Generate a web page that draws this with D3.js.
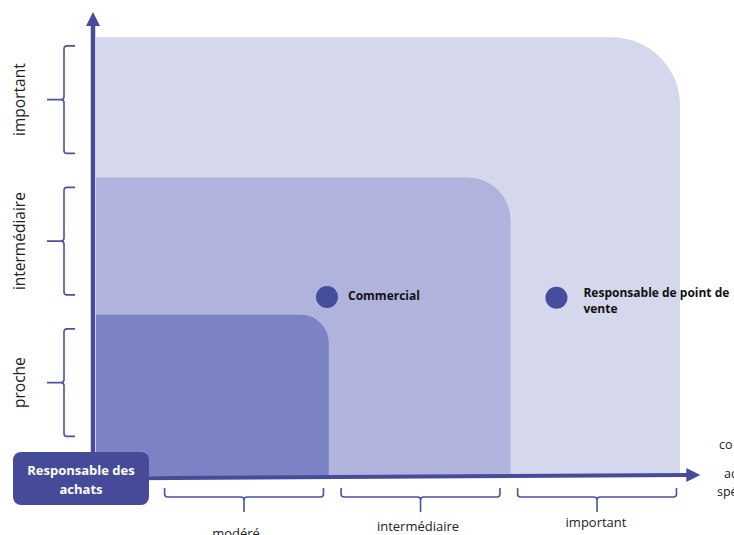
<!DOCTYPE html>
<html>
<head>
<meta charset="utf-8">
<script src="https://d3js.org/d3.v7.min.js"></script>
<style>
  html, body { margin: 0; padding: 0; background: #fff; }
  svg { display: block; font-family: "Open Sans", "DejaVu Sans", sans-serif; }
</style>
</head>
<body>
<svg id="chart" width="734" height="535"></svg>
<script>
// niveaux sur les deux axes
const xCategories = ["modéré", "intermédiaire", "important"];
const yCategories = ["proche", "intermédiaire", "important"];

// bord droit / bord haut de chaque zone (unités de l'axe)
const zoneX = [1.33, 2.36, 3.32];
const zoneY = [1.14, 2.11, 3.10];

// acteurs placés dans la matrice
const pointNames = [["Commercial"], ["Responsable de point de", "vente"]];
const pointX = [1.32, 2.62];
const pointY = [1.265, 1.26];

const originLabel = ["Responsable des", "achats"];
const clippedAxisText = ["co", "ac", "spé"];

const zoneColors = ["#7b83c4", "#b0b3dc", "#d5d7ec"];
const zoneRadius = [28, 43, 68];
const dark = "#454c9b";

const svg = d3.select("#chart");

const x = d3.scaleLinear().domain([0, 3.35]).range([94, 685.3]);
const y = d3.scaleLinear().domain([0, 3.3]).range([476, 9.05]);

// zones (grande d'abord)
const zones = d3.range(zoneX.length).map(i => ({ i, xr: zoneX[i], yt: zoneY[i] })).reverse();
svg.append("g").selectAll("path")
  .data(zones)
  .join("path")
    .attr("fill", d => zoneColors[d.i])
    .attr("d", d => {
      const l = x(0) + 2, b = y(0), t = y(d.yt), r = x(d.xr), rad = zoneRadius[d.i];
      return `M${l},${b}L${l},${t}L${r - rad},${t}A${rad},${rad} 0 0 1 ${r},${t + rad}L${r},${b}Z`;
    });

// axes
svg.append("line")
  .attr("x1", x(0) - 1).attr("y1", y(0) + 4)
  .attr("x2", x(0) - 1).attr("y2", y(3.2))
  .attr("stroke", dark).attr("stroke-width", 4.5);
svg.append("path")
  .attr("fill", dark)
  .attr("d", `M${x(0) - 1},${y(3.28)}L${x(0) - 8},${y(3.28) + 14}L${x(0) + 6},${y(3.28) + 14}Z`);

const xEnd = x(3.435);
svg.append("line")
  .attr("x1", x(0) - 2).attr("y1", y(0) + 2.5)
  .attr("x2", xEnd - 12).attr("y2", y(0) - 1)
  .attr("stroke", dark).attr("stroke-width", 4);
svg.append("path")
  .attr("fill", dark)
  .attr("d", `M${xEnd},${y(0) - 1}L${xEnd - 14},${y(0) - 8}L${xEnd - 14},${y(0) + 6}Z`);

// accolades axe vertical
const vx = 64;
const yBr = svg.append("g").attr("fill", "none").attr("stroke", "#4a51a2").attr("stroke-width", 1.6);
yCategories.forEach((c, i) => {
  const top = y(1.16 + i - 0.12), bot = y(0.16 + i + 0.12), mid = y(0.66 + i);
  yBr.append("path").attr("d",
    `M${vx + 11},${top}L${vx + 3},${top}Q${vx},${top} ${vx},${top + 3}L${vx},${mid - 3}Q${vx},${mid} ${vx - 3},${mid}L${vx - 17},${mid}` +
    `M${vx - 3},${mid}Q${vx},${mid} ${vx},${mid + 3}L${vx},${bot - 3}Q${vx},${bot} ${vx + 3},${bot}L${vx + 11},${bot}`);
  svg.append("text")
    .attr("transform", `translate(19,${mid}) rotate(-90)`)
    .attr("text-anchor", "middle")
    .attr("dominant-baseline", "central")
    .attr("font-size", 15.5)
    .attr("fill", "#222")
    .text(c);
});

// accolades axe horizontal
const hy = 497;
const xLabelX = [236, 418, 596];
const xLabelY = [538, 531, 527];
xCategories.forEach((c, i) => {
  const l = x(0.35 + i + 0.05), r = x(0.35 + i + 0.95), mid = x(0.85 + i);
  yBr.append("path").attr("d",
    `M${l},${hy - 9}L${l},${hy - 3}Q${l},${hy} ${l + 3},${hy}L${mid - 3},${hy}Q${mid},${hy} ${mid},${hy + 3}L${mid},${hy + 15}` +
    `M${mid},${hy + 3}Q${mid},${hy} ${mid + 3},${hy}L${r - 3},${hy}Q${r},${hy} ${r},${hy - 3}L${r},${hy - 9}`);
  svg.append("text")
    .attr("x", xLabelX[i]).attr("y", xLabelY[i])
    .attr("text-anchor", "middle")
    .attr("font-size", 13)
    .attr("fill", "#222")
    .text(c);
});

// acteurs
pointNames.forEach((lines, i) => {
  const cx = x(pointX[i]), cy = y(pointY[i]);
  svg.append("circle").attr("cx", cx).attr("cy", cy).attr("r", 11).attr("fill", "#464d9e");
  const t = svg.append("text")
    .attr("x", cx + 21).attr("y", cy + 3 - (lines.length - 1) * 4)
    .attr("font-size", 12).attr("font-weight", "bold").attr("fill", "#111");
  lines.forEach((ln, k) => {
    t.append("tspan").attr("x", cx + 27 - (lines.length === 1 ? 6 : 0)).attr("dy", k ? 16 : 0).text(ln);
  });
});

// texte coupé à droite
const clipPos = [[719, 449], [724, 478], [717, 496]];
clippedAxisText.forEach((s, i) => {
  svg.append("text").attr("x", clipPos[i][0]).attr("y", clipPos[i][1])
    .attr("font-size", 12.5).attr("fill", "#222").text(s);
});

// origine
svg.append("rect")
  .attr("x", 13).attr("y", 452).attr("width", 136).attr("height", 53)
  .attr("rx", 8).attr("fill", "#454b99");
svg.append("text")
  .attr("text-anchor", "middle").attr("font-size", 13).attr("font-weight", "bold").attr("fill", "#fff")
  .selectAll("tspan").data(originLabel).join("tspan")
    .attr("x", 81).attr("y", (d, k) => 475 + k * 19)
    .text(d => d);
</script>
</body>
</html>
